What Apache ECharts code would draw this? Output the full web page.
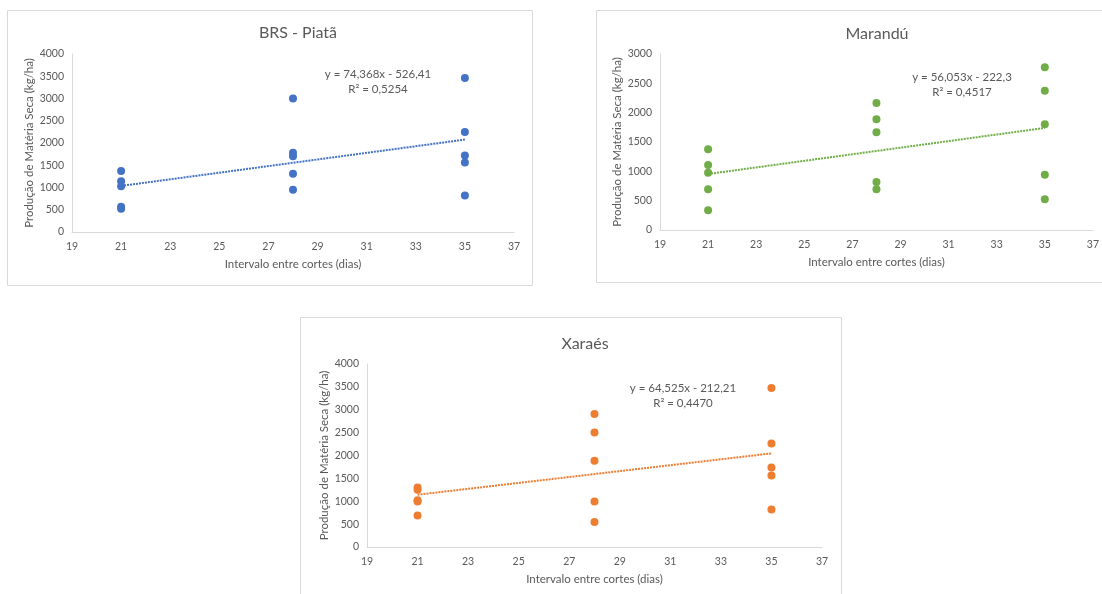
<!DOCTYPE html>
<html>
<head>
<meta charset="utf-8">
<script src="https://cdn.jsdelivr.net/npm/echarts@6/dist/echarts.min.js"></script>
<style>
  html, body { margin: 0; padding: 0; background: #fff; }
  #chart { width: 1102px; height: 594px; }
</style>
</head>
<body>
<div id="chart"></div>
<script>
// x values (cutting interval, days) for each group of points
const intervals = [21, 28, 35]

// dry matter production (kg/ha), one inner array per interval
const piataValues = [[1370, 1140, 1030, 570, 520], [3000, 1780, 1700, 1310, 950], [3460, 2250, 1720, 1560, 820]]
const marandu = [[1375, 1108, 977, 693, 335], [2165, 1886, 1665, 818, 693], [2773, 2375, 1801, 943, 523]]
const xaraes = [[1300, 1250, 1020, 995, 686], [2905, 2504, 1883, 993, 547], [3474, 2263, 1737, 1562, 818]]

// trendline coefficients printed on each chart [slope, intercept]
const piataTrend = [74.368, -526.41]
const maranduTrend = [56.053, -222.3]
const xaraesTrend = [64.525, -212.21]

const titles = ['BRS - Piatã', 'Marandú', 'Xaraés']
const equations = ['y = 74,368x - 526,41', 'y = 56,053x - 222,3', 'y = 64,525x - 212,21']
const r2Labels = ['R² = 0,5254', 'R² = 0,4517', 'R² = 0,4470']
const yMax = [4000, 3000, 4000]

const colors = ['#4472c4', '#70ad47', '#ed7d31']
const font = 'Lato, "Open Sans", sans-serif'
const textGray = '#595959'
const lineGray = '#d9d9d9'

// layout of each panel
const boxes = [
  { x: 7, y: 10, w: 525, h: 275 },
  { x: 596, y: 10, w: 520, h: 272 },
  { x: 300, y: 317, w: 541, h: 290 }
]
const grids = [
  { left: 72, top: 54, width: 442, height: 178 },
  { left: 660, top: 54, width: 437, height: 176 },
  { left: 367, top: 364, width: 455, height: 183 }
]
const titlePos = [[293, 20], [872, 21], [580, 331]]
const eqPos = [[378, 67], [962, 70], [683, 381]]

const allValues = [piataValues, marandu, xaraes]
const trends = [piataTrend, maranduTrend, xaraesTrend]

function points(groups) {
  const out = []
  groups.forEach((g, i) => g.forEach(v => out.push([intervals[i], v])))
  return out
}

function trendLine(t) {
  const x0 = intervals[0], x1 = intervals[intervals.length - 1]
  return [[x0, t[0] * x0 + t[1]], [x1, t[0] * x1 + t[1]]]
}

const chart = echarts.init(document.getElementById('chart'), null, { renderer: 'canvas' })

const option = {
  backgroundColor: '#fff',
  animation: false,
  title: titles.map((t, i) => ({
    text: t,
    left: titlePos[i][0],
    top: titlePos[i][1],
    textAlign: 'center',
    textStyle: { fontFamily: font, fontSize: 16, fontWeight: 'normal', color: textGray }
  })),
  graphic: [
    ...boxes.map(b => ({
      type: 'rect', z: -10, silent: true,
      shape: { x: b.x + 0.5, y: b.y + 0.5, width: b.w, height: b.h },
      style: { fill: '#fff', stroke: lineGray, lineWidth: 1 }
    })),
    ...eqPos.map((p, i) => ({
      type: 'text', z: 10, x: p[0], y: p[1],
      style: {
        text: equations[i] + '\n' + r2Labels[i],
        align: 'center', verticalAlign: 'top',
        font: '11.5px ' + font, fill: textGray, lineHeight: 15
      }
    }))
  ],
  grid: grids,
  xAxis: grids.map((g, i) => ({
    gridIndex: i,
    type: 'value', min: 19, max: 37, interval: 2,
    name: 'Intervalo entre cortes (dias)',
    nameLocation: 'middle', nameGap: 26,
    nameTextStyle: { fontFamily: font, fontSize: 11.5, color: textGray },
    axisLine: { show: true, onZero: false, lineStyle: { color: lineGray } },
    axisTick: { show: false },
    splitLine: { show: false },
    axisLabel: { fontFamily: font, fontSize: 10.5, color: textGray, margin: 9 }
  })),
  yAxis: grids.map((g, i) => ({
    gridIndex: i,
    type: 'value', min: 0, max: yMax[i], interval: 500,
    name: 'Produção de Matéria Seca (kg/ha)',
    nameLocation: 'middle', nameGap: 35,
    nameTextStyle: { fontFamily: font, fontSize: 11.5, color: textGray },
    axisLine: { show: true, lineStyle: { color: lineGray } },
    axisTick: { show: false },
    splitLine: { show: false },
    axisLabel: { fontFamily: font, fontSize: 10.5, color: textGray, margin: 8, formatter: v => String(v) }
  })),
  series: [
    ...allValues.map((vals, i) => ({
      type: 'scatter', xAxisIndex: i, yAxisIndex: i,
      symbolSize: 8,
      itemStyle: { color: colors[i], opacity: 1 },
      data: points(vals), z: 3
    })),
    ...trends.map((t, i) => ({
      type: 'line', xAxisIndex: i, yAxisIndex: i,
      symbol: 'none', silent: true,
      lineStyle: { color: colors[i], width: 2, type: [2, 1] },
      data: trendLine(t), z: 2
    }))
  ]
}

chart.setOption(option)
</script>
</body>
</html>
